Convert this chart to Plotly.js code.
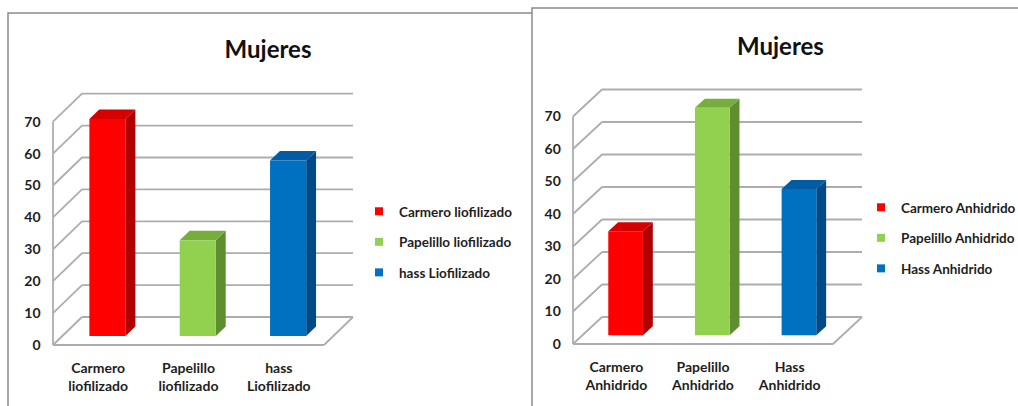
<!DOCTYPE html>
<html><head><meta charset="utf-8">
<script src="https://cdn.plot.ly/plotly-3.0.1.min.js"></script>
<style>html,body{margin:0;padding:0;background:#fff;overflow:hidden}#chart{width:1018px;height:406px}</style>
</head><body><div id="chart"></div>
<script>
// ---------- data ----------
const chartTitle = 'Mujeres';
const categoriesLeft = ['Carmero<br>liofilizado', 'Papelillo<br>liofilizado', 'hass<br>Liofilizado'];
const seriesLeft = ['Carmero liofilizado', 'Papelillo liofilizado', 'hass Liofilizado'];
const valuesLeft = [68, 30, 55];
const categoriesRight = ['Carmero<br>Anhidrido', 'Papelillo<br>Anhidrido', 'Hass<br>Anhidrido'];
const seriesRight = ['Carmero Anhidrido', 'Papelillo Anhidrido', 'Hass Anhidrido'];
const valuesRight = [32, 70, 45];
const yTicks = [0, 10, 20, 30, 40, 50, 60, 70];

// ---------- style ----------
const W = 1018, H = 406;
const FONT = 'Lato, "Open Sans", "DejaVu Sans", sans-serif';
const faces = [
  {front: '#FF0000', side: '#B00000', top: '#D60000'},
  {front: '#92D050', side: '#5E8E2F', top: '#77AD3D'},
  {front: '#0070C0', side: '#004A88', top: '#005CA4'}
];
const geoms = [
  {fx0: 53, fx1: 324, y0: 345, ppu: 3.19, dx: 29, dy: 28, xr: [-0.56, 2.86], yr: [-1.2, 80], sfx: '', legend: 'legend'},
  {fx0: 573, fx1: 833, y0: 344, ppu: 3.25, dx: 29, dy: 27, xr: [-0.56, 2.86], yr: [-1.2, 80], sfx: '2', legend: 'legend2'}
];
const BAR_W = 0.4, D_FRONT = 0.32, D_DEPTH = 0.34;
const gridLine = {color: '#ADADAD', width: 1.8};
const textColor = '#1E1E1E';

const traces = [], shapes = [], annotations = [];
const layout = {
  width: W, height: H,
  margin: {l: 0, r: 0, t: 0, b: 0, autoexpand: false},
  paper_bgcolor: '#fff', plot_bgcolor: 'rgba(0,0,0,0)',
  barmode: 'overlay', showlegend: true,
  font: {family: FONT, color: textColor, size: 13, weight: 'bold'}
};

// panel frames
shapes.push({type: 'rect', xref: 'paper', yref: 'paper', x0: 8 / W, x1: 545 / W, y0: -0.1, y1: 1 - 13 / H,
  line: {color: '#8A8A8A', width: 1.5}, fillcolor: 'rgba(0,0,0,0)', layer: 'below'});
shapes.push({type: 'rect', xref: 'paper', yref: 'paper', x0: 532 / W, x1: 1.1, y0: -0.1, y1: 1 - 8 / H,
  line: {color: '#8A8A8A', width: 1.5}, fillcolor: '#fff', layer: 'below'});

function build(g, cats, names, vals) {
  const n = cats.length;
  const ppc = (g.fx1 - g.fx0) / n;
  const xref = 'x' + g.sfx, yref = 'y' + g.sfx;
  const bx = g.dx / ppc, by = g.dy / g.ppu;
  const xl = g.fx0 + (g.xr[0] + 0.5) * ppc, xrt = g.fx0 + (g.xr[1] + 0.5) * ppc;
  const yb = g.y0 - g.yr[0] * g.ppu, yt = g.y0 - g.yr[1] * g.ppu;
  layout['xaxis' + g.sfx] = {
    domain: [xl / W, xrt / W], range: g.xr, anchor: yref, fixedrange: true,
    tickmode: 'array', tickvals: cats.map((c, i) => i), ticktext: cats,
    showgrid: false, zeroline: false, showline: false, ticks: '',
    ticklabelstandoff: 9, tickfont: {family: FONT, size: 14, color: textColor, weight: 'bold'}
  };
  layout['yaxis' + g.sfx] = {
    domain: [(H - yb) / H, (H - yt) / H], range: g.yr, anchor: xref, fixedrange: true,
    tickmode: 'array', tickvals: yTicks, ticktext: yTicks.map(String),
    showgrid: false, zeroline: false, showline: false, ticks: '',
    ticklabelstandoff: 6, tickfont: {family: FONT, size: 14, color: textColor, weight: 'bold'}
  };
  const yMax = yTicks[yTicks.length - 1];
  // back wall gridlines + side wall diagonals
  yTicks.forEach(v => {
    shapes.push({type: 'line', xref, yref, layer: 'below', line: gridLine,
      x0: -0.5 + bx, x1: n - 0.5 + bx, y0: v + by, y1: v + by});
    shapes.push({type: 'line', xref, yref, layer: 'below', line: gridLine,
      x0: -0.5, x1: -0.5 + bx, y0: v, y1: v + by});
  });
  // front wall edge + floor
  shapes.push({type: 'line', xref, yref, layer: 'below', line: gridLine, x0: -0.5, x1: -0.5, y0: 0, y1: yMax});
  shapes.push({type: 'line', xref, yref, layer: 'below', line: gridLine, x0: -0.5, x1: n - 0.5, y0: 0, y1: 0});
  shapes.push({type: 'line', xref, yref, layer: 'below', line: gridLine, x0: n - 0.5, x1: n - 0.5 + bx, y0: 0, y1: by});
  // bars
  const base = D_FRONT * by, off = -BAR_W / 2 + D_FRONT * bx;
  const ddx = D_DEPTH * bx, ddy = D_DEPTH * by;
  vals.forEach((v, i) => {
    const c = faces[i];
    traces.push({type: 'bar', x: [i], y: [v], base: [base], offset: off, width: BAR_W,
      xaxis: xref, yaxis: yref, marker: {color: c.front, line: {width: 0}},
      name: names[i], legendgroup: names[i], showlegend: false, hoverinfo: 'name+y'});
    traces.push({type: 'scatter', mode: 'markers', x: [null], y: [null], xaxis: xref, yaxis: yref,
      name: names[i], legendgroup: names[i], legend: g.legend, showlegend: true,
      marker: {symbol: 'square', size: 8, color: c.front}});
    const xL = i + off, xR = i + off + BAR_W, yT = base + v;
    shapes.push({type: 'path', xref, yref, layer: 'below', line: {width: 0}, fillcolor: c.side,
      path: `M${xR},${base} L${xR},${yT} L${xR + ddx},${yT + ddy} L${xR + ddx},${base + ddy} Z`});
    shapes.push({type: 'path', xref, yref, layer: 'below', line: {width: 0}, fillcolor: c.top,
      path: `M${xL},${yT} L${xR},${yT} L${xR + ddx},${yT + ddy} L${xL + ddx},${yT + ddy} Z`});
  });
}

build(geoms[0], categoriesLeft, seriesLeft, valuesLeft);
build(geoms[1], categoriesRight, seriesRight, valuesRight);

layout.title = {text: chartTitle, x: 268 / W, xanchor: 'center', y: 1 - 50 / H, yanchor: 'middle',
  font: {family: FONT, size: 24, color: '#111', weight: 'bold'}};
annotations.push({text: chartTitle, xref: 'paper', yref: 'paper', x: 780 / W, y: 1 - 45 / H,
  xanchor: 'center', yanchor: 'middle', showarrow: false,
  font: {family: FONT, size: 24, color: '#111', weight: 'bold'}});

const legendCommon = {xanchor: 'left', yanchor: 'top', bgcolor: 'rgba(0,0,0,0)', borderwidth: 0,
  tracegroupgap: 10};
layout.legend = Object.assign({x: 359 / W, y: 1 - 196 / H,
  font: {family: FONT, size: 13.5, color: textColor, weight: 'bold'}}, legendCommon);
layout.legend2 = Object.assign({x: 861 / W, y: 1 - 192 / H,
  font: {family: FONT, size: 13.5, color: textColor, weight: 'bold'}}, legendCommon);

layout.shapes = shapes;
layout.annotations = annotations;

Plotly.newPlot('chart', traces, layout, {displayModeBar: false, staticPlot: true});
</script>
</body></html>
